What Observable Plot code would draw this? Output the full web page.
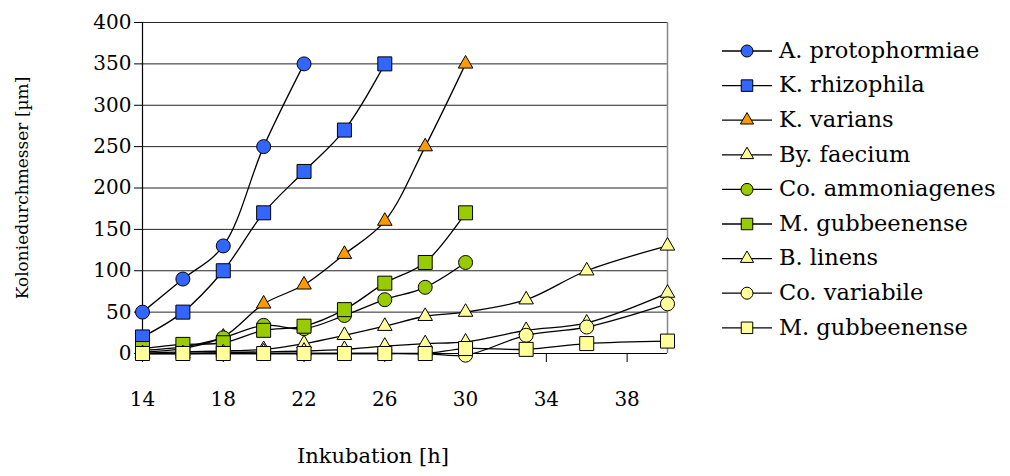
<!DOCTYPE html>
<html>
<head>
<meta charset="utf-8">
<script src="https://cdn.jsdelivr.net/npm/d3@7"></script>
<script src="https://cdn.jsdelivr.net/npm/@observablehq/plot@0.6"></script>
<style>
  html, body { margin: 0; padding: 0; background: #fff; }
  #wrap { position: relative; width: 1010px; height: 476px; font-family: "DejaVu Serif", serif; }
  #wrap svg { position: absolute; left: 0; top: 0; }
</style>
</head>
<body>
<div id="wrap"></div>
<script>
// ---- data ----
const hoursAll = [14, 16, 18, 20, 22, 24, 26, 28, 30, 33, 36, 40];
const hoursTo22 = [14, 16, 18, 20, 22];
const hoursTo26 = [14, 16, 18, 20, 22, 24, 26];
const hoursTo30 = [14, 16, 18, 20, 22, 24, 26, 28, 30];

const seriesNames = [
  "A. protophormiae", "K. rhizophila", "K. varians", "By. faecium",
  "Co. ammoniagenes", "M. gubbeenense", "B. linens", "Co. variabile", "M. gubbeenense"
];
const aProtophormiae   = [50, 90, 130, 250, 350];
const kRhizophila      = [20, 50, 100, 170, 220, 270, 350];
const kVarians         = [2, 6, 20, 60, 83, 120, 160, 250, 350];
const byFaecium        = [0, 2, 3, 5, 12, 22, 33, 45, 50, 65, 100, 130];
const coAmmoniagenes   = [4, 8, 19, 34, 30, 46, 65, 80, 110];
const mGubbeenenseG    = [6, 11, 13, 28, 33, 53, 85, 110, 170];
const bLinens          = [0, 0, 1, 2, 3, 5, 9, 12, 14, 28, 37, 73];
const coVariabile      = [0, 0, 0, 0, 0, 0, 0, 0, -2, 22, 32, 60];
const mGubbeenenseY    = [0, 0, 0, 0, 0, 0, 0, 0, 6, 5, 12, 15];

const xTicks = [14, 18, 22, 26, 30, 34, 38];
const yTicks = [0, 50, 100, 150, 200, 250, 300, 350, 400];

// ---- styles ----
const BLUE = "#3366FF", ORANGE = "#FF9900", YELLOW = "#FFFF99", GREEN = "#99CC00";
const seriesDefs = [
  {hours: hoursTo22, values: aProtophormiae, symbol: "circle",   fill: BLUE},
  {hours: hoursTo26, values: kRhizophila,    symbol: "square",   fill: BLUE},
  {hours: hoursTo30, values: kVarians,       symbol: "triangle", fill: ORANGE},
  {hours: hoursAll,  values: byFaecium,      symbol: "triangle", fill: YELLOW},
  {hours: hoursTo30, values: coAmmoniagenes, symbol: "circle",   fill: GREEN},
  {hours: hoursTo30, values: mGubbeenenseG,  symbol: "square",   fill: GREEN},
  {hours: hoursAll,  values: bLinens,        symbol: "triangle", fill: YELLOW},
  {hours: hoursAll,  values: coVariabile,    symbol: "circle",   fill: YELLOW},
  {hours: hoursAll,  values: mGubbeenenseY,  symbol: "square",   fill: YELLOW}
].map((d, i) => ({...d, name: seriesNames[i]}));

const symR = {circle: 7, square: 7.9, triangle: 5.4};

const seriesMarks = seriesDefs.flatMap(s => {
  const rows = s.hours.map((h, i) => ({h, v: s.values[i]}));
  return [
    Plot.line(rows, {x: "h", y: "v", curve: "catmull-rom", stroke: "#000", strokeWidth: 1.3}),
    Plot.dot(rows, {x: "h", y: "v", symbol: s.symbol, r: symR[s.symbol], fill: s.fill, stroke: "#000", strokeWidth: 1})
  ];
});

const chart = Plot.plot({
  width: 1010,
  height: 476,
  marginLeft: 142,
  marginRight: 343,
  marginTop: 22,
  marginBottom: 123,
  style: {fontFamily: "DejaVu Serif, serif", color: "#000", background: "#fff"},
  x: {domain: [14, 40]},
  y: {domain: [0, 400]},
  marks: [
    Plot.gridY(yTicks, {stroke: "#000", strokeOpacity: 0.85, strokeWidth: 1}),
    Plot.ruleX([40], {stroke: "#888", strokeWidth: 1.5}),
    Plot.axisY(yTicks, {tickSize: 8, tickPadding: 3, fontSize: 20, label: null, stroke: "#000"}),
    Plot.axisX(xTicks, {tickSize: 9, tickPadding: 29, fontSize: 20, label: null, stroke: "#000"}),
    Plot.ruleY([0], {stroke: "#000", strokeWidth: 1.2}),
    Plot.ruleX([14], {stroke: "#000", strokeWidth: 1.2}),
    Plot.text(["Koloniedurchmesser [µm]"], {frameAnchor: "left", textAnchor: "middle", lineAnchor: "middle", rotate: -90, dx: -120, fontSize: 17, fill: "#000"}),
    Plot.text(["Inkubation [h]"], {frameAnchor: "bottom", dx: -32, dy: 109, fontSize: 21, fill: "#000"}),
    ...seriesMarks
  ]
});

const wrap = document.getElementById("wrap");
wrap.appendChild(chart);

// ---- legend ----
const leg = d3.select(wrap).append("svg")
  .attr("width", 1010).attr("height", 476)
  .style("pointer-events", "none");
const legR = {circle: 6, square: 6.5, triangle: 4.9};
seriesDefs.forEach((s, i) => {
  const cy = 51 + i * 34.6;
  const g = leg.append("g").attr("transform", `translate(0,${cy})`);
  g.append("line").attr("x1", 722).attr("x2", 772).attr("y1", 0).attr("y2", 0)
    .attr("stroke", "#000").attr("stroke-width", 1.3);
  const sym = {circle: d3.symbolCircle, square: d3.symbolSquare, triangle: d3.symbolTriangle}[s.symbol];
  g.append("path")
    .attr("d", d3.symbol(sym, Math.PI * legR[s.symbol] ** 2)())
    .attr("transform", "translate(747,0)")
    .attr("fill", s.fill).attr("stroke", "#000").attr("stroke-width", 1);
  g.append("text").attr("x", 779).attr("y", 0).attr("dy", "0.3em")
    .attr("font-family", "DejaVu Serif, serif").attr("font-size", 22.5).attr("fill", "#000")
    .text(s.name);
});
</script>
</body>
</html>
